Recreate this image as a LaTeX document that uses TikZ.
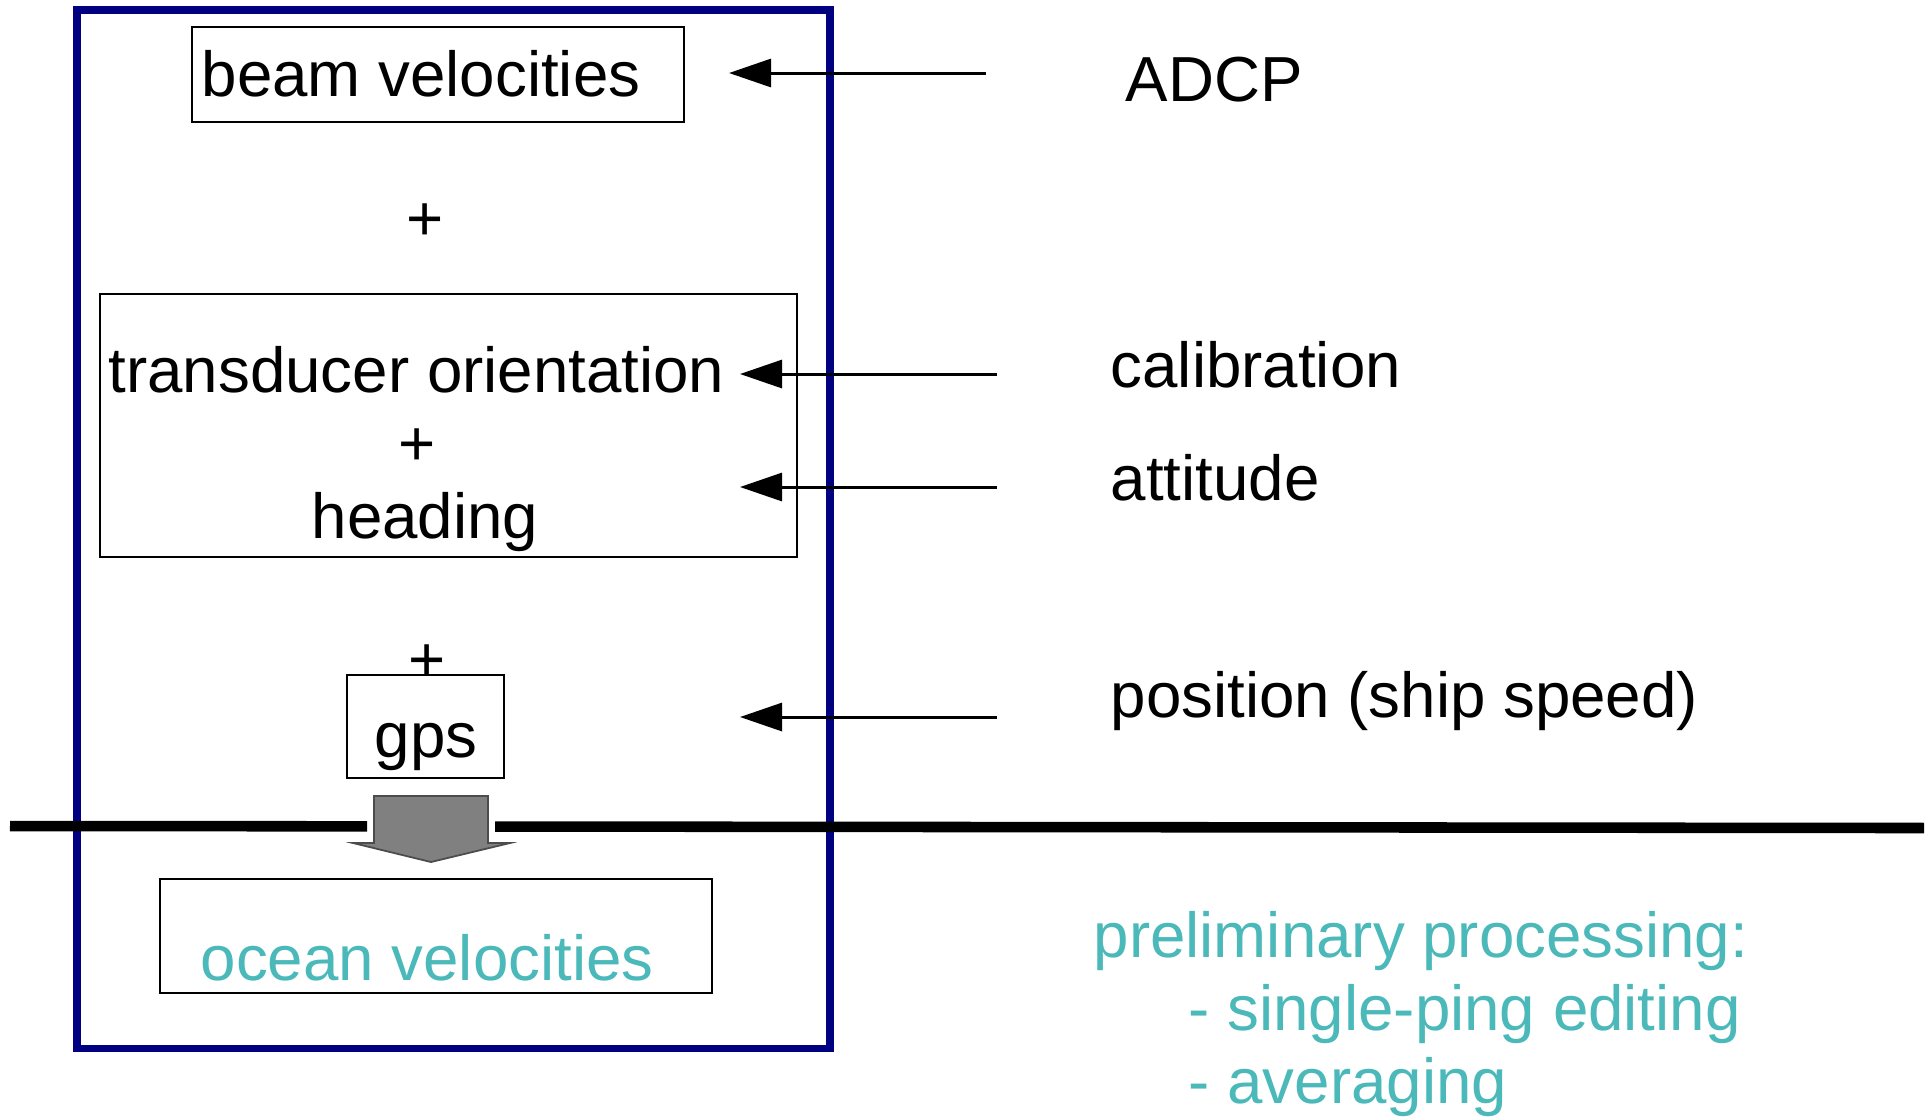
\documentclass[tikz,border=0pt]{standalone}
\usepackage{fontspec}
\setmainfont{Liberation Sans}
\usetikzlibrary{arrows.meta,fit}
\definecolor{frameblue}{RGB}{0,0,128}
\definecolor{procteal}{RGB}{75,184,185}

\begin{document}
\begin{tikzpicture}[x=0.01cm,y=-0.01cm,>={Triangle[length=12pt,width=8pt]},
    txt/.style={inner sep=0pt,font=\fontsize{18.1}{21.7}\selectfont},
    box/.style={draw,line width=0.45pt,inner sep=0pt},
    feed/.style={->,line width=0.85pt}]
    \useasboundingbox (0,0) rectangle (1931,1117);

    \node[box,draw=frameblue,line width=2pt,fit={(77,10) (830,1048)}] (frame) {};

    \node[box,fit={(192,27) (684,122)}] (beamBox) {};
    \node[box,fit={(100,294) (797,557)}] (orientBox) {};
    \node[box,fit={(347,675) (504,778)}] (gpsBox) {};
    \node[box,fit={(160,879) (712,993)}] (oceanBox) {};

    \node[txt,anchor=base west] (beam) at (201,96) {beam velocities};
    \node[txt] (plusA) at (425,222) {+};
    \node[txt,anchor=base west] (orient) at (108,392) {transducer orientation};
    \node[txt] (plusB) at (417,447) {+};
    \node[txt,anchor=base] (heading) at (425,538) {heading};
    \node[txt] (plusC) at (427,663) {+};
    \node[txt,anchor=base] (gps) at (426,757) {gps};
    \node[txt,anchor=base west,procteal] (ocean) at (200,980) {ocean velocities};

    \node[txt,anchor=base west] (adcp) at (1125,101) {ADCP};
    \node[txt,anchor=base west] (calib) at (1110,387) {calibration};
    \node[txt,anchor=base west] (attitude) at (1110,500) {attitude};
    \node[txt,anchor=base west] (position) at (1110,717) {position (ship speed)};
    \node[txt,anchor=base west,procteal] (prelim) at (1093,957) {preliminary processing:};
    \node[txt,anchor=base west,procteal] (editing) at (1188,1030) {- single-ping editing};
    \node[txt,anchor=base west,procteal] (averaging) at (1188,1103) {- averaging};

    % waterline, broken where the result drops through
    \draw[line width=3pt] (10,826) -- (367,826.3);
    \draw[line width=3pt] (495,826.5) -- (1924,828);
    \draw[fill=gray,draw=black!70,line width=0.5pt]
    (374,796) -- (488,796) -- (488,843) -- (510,843) -- (431,862) -- (353,843) -- (374,843) -- cycle;

    \coordinate (adcpTail) at (986,73);
    \coordinate (adcpTip) at (729,73);
    \draw[feed] (adcpTail) -- (adcpTip);
    \foreach \nm/\y in {calib/374, attitude/487, position/717} {
      \coordinate (\nm Tail) at (997,\y);
      \coordinate (\nm Tip) at (740,\y);
      \draw[feed] (\nm Tail) -- (\nm Tip);
    }
  \end{tikzpicture}
\end{document}
